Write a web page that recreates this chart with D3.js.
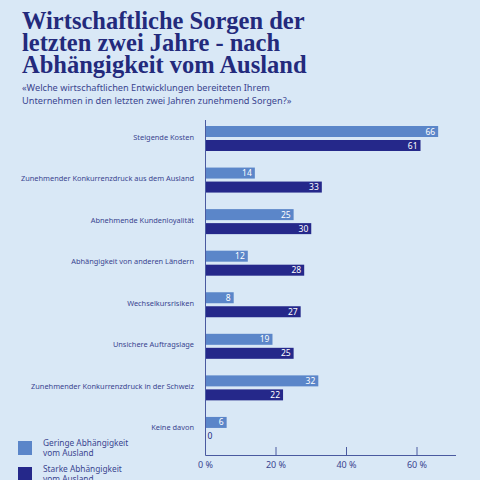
<!DOCTYPE html><html><head><meta charset="utf-8"><script src="https://cdn.jsdelivr.net/npm/d3@7"></script>
<style>body{margin:0;background:#d9e8f6}</style></head><body><svg id="c" width="480" height="480"></svg><script>
const categories=["Steigende Kosten","Zunehmender Konkurrenzdruck aus dem Ausland","Abnehmende Kundenloyalität","Abhängigkeit von anderen Ländern","Wechselkursrisiken","Unsichere Auftragslage","Zunehmender Konkurrenzdruck in der Schweiz","Keine davon"];
const gering=[66,14,25,12,8,19,32,6];
const stark=[61,33,30,28,27,25,22,0];
const ticks=[0,20,40,60];
const svg=d3.select("#c");
svg.append("rect").attr("width",480).attr("height",480).attr("fill","#d9e8f6");
const navy="#232a7c",light="#5b86c9",dark="#25288a";
const t=svg.append("text").attr("fill",navy).attr("font-family","Liberation Serif, serif").attr("font-weight","bold").attr("font-size",24.5);
["Wirtschaftliche Sorgen der","letzten zwei Jahre - nach","Abhängigkeit vom Ausland"].forEach((s,i)=>t.append("tspan").attr("x",22).attr("y",29+i*22).text(s));
const st=svg.append("text").attr("fill","#3a4590").attr("font-family","Noto Sans, sans-serif").attr("font-size",9.2);
["«Welche wirtschaftlichen Entwicklungen bereiteten Ihrem","Unternehmen in den letzten zwei Jahren zunehmend Sorgen?»"].forEach((s,i)=>st.append("tspan").attr("x",22).attr("y",91+i*12.5).text(s));
const x=d3.scaleLinear().domain([0,60]).range([205.5,417]);
const y=d3.scaleBand().domain(categories).range([120,452.5]);
const bh=11;
const g=svg.append("g").attr("font-family","Noto Sans, sans-serif");
categories.forEach((c,i)=>{
 const y0=y(c)+6;
 g.append("text").attr("x",194).attr("y",y0+bh+2.5).attr("text-anchor","end").attr("font-size",7.4).attr("fill","#3a4590").text(c);
 [[gering[i],light,y0],[stark[i],dark,y0+bh+3]].forEach(([v,col,yy])=>{
  g.append("rect").attr("x",x(0)).attr("y",yy).attr("width",x(v)-x(0)).attr("height",bh).attr("fill",col);
  if(v>3) g.append("text").attr("x",x(v)-3).attr("y",yy+8.5).attr("text-anchor","end").attr("font-size",8.5).attr("fill","#fff").text(v);
  else g.append("text").attr("x",x(v)+2).attr("y",yy+8.5).attr("font-size",8.5).attr("fill",navy).text(v);
 });
});
const ax=svg.append("g");
ax.append("line").attr("x1",x(0)).attr("x2",456).attr("y1",455.5).attr("y2",455.5).attr("stroke","#4a5aa0").attr("stroke-width",1);
ax.append("line").attr("x1",x(0)).attr("x2",x(0)).attr("y1",120).attr("y2",455.5).attr("stroke","#4a5aa0").attr("stroke-width",1);
ticks.forEach(v=>{
 if(v>0) ax.append("line").attr("x1",x(v)).attr("x2",x(v)).attr("y1",447).attr("y2",455.5).attr("stroke","#4a5aa0");
 ax.append("text").attr("x",x(v)).attr("y",468).attr("text-anchor","middle").attr("font-family","Noto Sans, sans-serif").attr("font-size",9).attr("fill","#3a4590").text(v+" %");
});
const lg=svg.append("g").attr("font-family","Noto Sans, sans-serif").attr("font-size",8.3).attr("fill","#3a4590");
[[light,"Geringe Abhängigkeit","vom Ausland",441],[dark,"Starke Abhängigkeit","vom Ausland",467]].forEach(([c,a,b,yy])=>{
 lg.append("rect").attr("x",18).attr("y",yy).attr("width",14).attr("height",14).attr("fill",c);
 const tx=lg.append("text");
 tx.append("tspan").attr("x",43).attr("y",yy+5).text(a);
 tx.append("tspan").attr("x",43).attr("y",yy+15).text(b);
});
</script></body></html>
